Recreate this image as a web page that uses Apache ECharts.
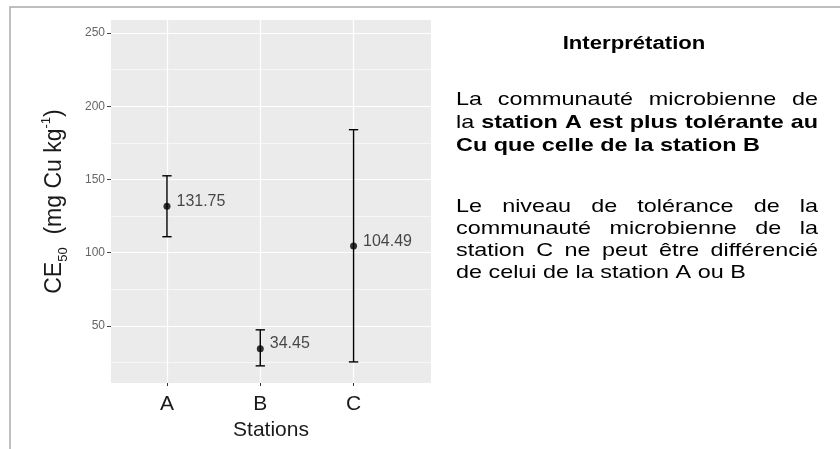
<!DOCTYPE html>
<html>
<head>
<meta charset="utf-8">
<script src="https://cdn.jsdelivr.net/npm/echarts@6/dist/echarts.min.js"></script>
<style>
  html, body { margin: 0; padding: 0; background: #fff; }
  #main { width: 840px; height: 449px; }
</style>
</head>
<body>
<div id="main"></div>
<script>
// stations and CE50 estimates with their confidence bounds
var stations = ['A', 'B', 'C'];
var stationPos = [1, 2, 3];
var ce50 = [131.75, 34.45, 104.49];
var ciLow = [110.9, 22.7, 25.4];
var ciHigh = [152.5, 47.3, 184.0];
var yTicks = [50, 100, 150, 200, 250];
var yMinor = [25, 75, 125, 175, 225];

// right-hand comment, one entry per printed line: [text, bold] segments
var titre = 'Interprétation';
var lignes = [
    [['La communauté microbienne de', false]],
    [['la', false], ['station A est plus tolérante au', true]],
    [['Cu que celle de la station B', true]],
    [['Le niveau de tolérance de la', false]],
    [['communauté microbienne de la', false]],
    [['station C ne peut être différencié', false]],
    [['de celui de la station A ou B', false]]
];
var justifie = [true, true, false, true, true, true, false];

var FONT = '"Liberation Sans", Arial, Helvetica, sans-serif';
var lineY = [100, 123, 146, 207, 229, 251, 273];
var textX = 456, textRight = 818, stretch = 1.23, textSize = 19;
var textW = (textRight - textX) / stretch;

var ctx = document.createElement('canvas').getContext('2d');
function fontStr(b) { return (b ? 'bold ' : '') + textSize + 'px ' + FONT; }

function buildLine(segs, y, justify) {
    var words = [];
    segs.forEach(function (s) {
        s[0].split(' ').forEach(function (w) { words.push({ t: w, b: s[1] }); });
    });
    var total = 0;
    words.forEach(function (w) {
        ctx.font = fontStr(w.b);
        w.w = ctx.measureText(w.t).width;
        total += w.w;
    });
    ctx.font = fontStr(false);
    var gap = justify ? (textW - total) / (words.length - 1) : ctx.measureText(' ').width;
    var x = 0;
    return words.map(function (w) {
        var el = {
            type: 'text', x: x, y: y, silent: true,
            style: {
                text: w.t, fill: '#000', fontSize: textSize,
                fontWeight: w.b ? 'bold' : 'normal', fontFamily: FONT,
                align: 'left', verticalAlign: 'middle'
            }
        };
        x += w.w + gap;
        return el;
    });
}

var textEls = [];
lignes.forEach(function (l, i) {
    textEls = textEls.concat(buildLine(l, lineY[i], justifie[i]));
});

var gridLines = []
    .concat(yMinor.map(function (v) { return { yAxis: v, lineStyle: { color: '#fff', width: 0.6, type: 'solid' } }; }))
    .concat(yTicks.map(function (v) { return { yAxis: v, lineStyle: { color: '#fff', width: 1.2, type: 'solid' } }; }))
    .concat(stationPos.map(function (v) { return { xAxis: v, lineStyle: { color: '#fff', width: 1.2, type: 'solid' } }; }));

var myChart = echarts.init(document.getElementById('main'));
var option = {
    animation: false,
    backgroundColor: '#fff',
    textStyle: { fontFamily: FONT },
    grid: {
        left: 111, top: 20, width: 320, height: 363,
        show: true, backgroundColor: '#ebebeb', borderWidth: 0
    },
    xAxis: {
        type: 'value', min: 0.4, max: 3.83,
        axisLine: { show: false },
        splitLine: { show: false },
        axisTick: { customValues: stationPos, length: 3, lineStyle: { color: '#333', width: 1 } },
        axisLabel: {
            customValues: stationPos, margin: 11, fontSize: 21, color: '#1a1a1a',
            formatter: function (v) { return stations[Math.round(v) - 1]; }
        },
        name: 'Stations', nameLocation: 'middle', nameGap: 36,
        nameTextStyle: { fontSize: 21, color: '#1a1a1a' }
    },
    yAxis: {
        type: 'value', min: 11, max: 258.9,
        axisLine: { show: false },
        splitLine: { show: false },
        axisTick: { customValues: yTicks, length: 4, lineStyle: { color: '#444', width: 1 } },
        axisLabel: { customValues: yTicks, margin: 6, fontSize: 12, color: '#666' },
        name: '{t|CE}{sub|50}{t|  (mg Cu kg}{sup|-1}{t|)}',
        nameLocation: 'middle', nameRotate: 90, nameGap: 41,
        nameTextStyle: {
            color: '#1a1a1a',
            rich: {
                t: { fontSize: 23, lineHeight: 30, color: '#1a1a1a' },
                sub: { fontSize: 13, lineHeight: 12, verticalAlign: 'bottom', color: '#1a1a1a' },
                sup: { fontSize: 13, lineHeight: 12, verticalAlign: 'top', color: '#1a1a1a' }
            }
        }
    },
    graphic: [
        {
            type: 'rect', silent: true, z: -1,
            shape: { x: 10, y: 7, width: 840, height: 460 },
            style: { fill: 'none', stroke: '#aaa', lineWidth: 1.5 }
        },
        {
            type: 'text', x: 634, y: 44, scaleX: stretch, silent: true,
            style: {
                text: titre, fill: '#000', fontSize: 18, fontWeight: 'bold', fontFamily: FONT,
                align: 'center', verticalAlign: 'middle'
            }
        },
        { type: 'group', x: textX, y: 0, scaleX: stretch, children: textEls }
    ],
    series: [
        {
            type: 'custom',
            z: 3,
            silent: true,
            data: stationPos.map(function (x, i) { return [x, ciLow[i], ciHigh[i]]; }),
            renderItem: function (params, api) {
                var lo = api.coord([api.value(0), api.value(1)]);
                var hi = api.coord([api.value(0), api.value(2)]);
                var half = api.size([0.1, 0])[0] / 2;
                var st = { stroke: '#000', lineWidth: 1.4 };
                return {
                    type: 'group',
                    children: [
                        { type: 'line', shape: { x1: lo[0], y1: lo[1], x2: hi[0], y2: hi[1] }, style: st },
                        { type: 'line', shape: { x1: lo[0] - half, y1: lo[1], x2: lo[0] + half, y2: lo[1] }, style: st },
                        { type: 'line', shape: { x1: hi[0] - half, y1: hi[1], x2: hi[0] + half, y2: hi[1] }, style: st }
                    ]
                };
            }
        },
        {
            type: 'scatter',
            z: 4,
            silent: true,
            symbolSize: 7,
            itemStyle: { color: '#000' },
            data: stationPos.map(function (x, i) { return [x, ce50[i]]; }),
            label: {
                show: true, position: 'right', distance: 6, offset: [0, -5],
                fontSize: 16, color: '#1a1a1a',
                formatter: function (p) { return p.value[1].toFixed(2); }
            },
            markLine: {
                silent: true, z: 1, symbol: ['none', 'none'],
                label: { show: false },
                data: gridLines
            }
        }
    ]
};
myChart.setOption(option);
</script>
</body>
</html>
